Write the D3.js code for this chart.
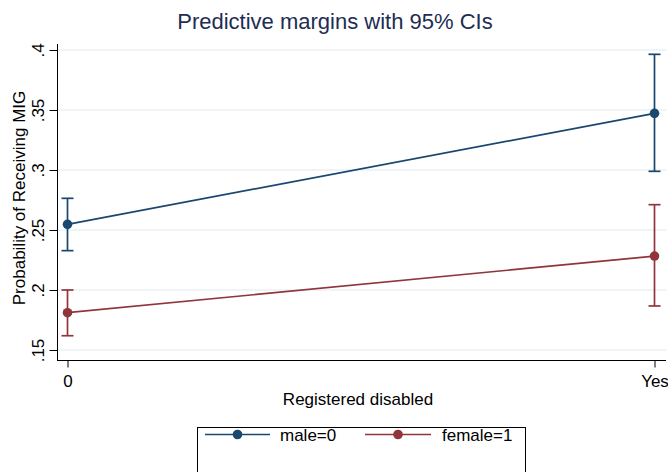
<!DOCTYPE html>
<html><head><meta charset="utf-8">
<script src="https://cdn.jsdelivr.net/npm/d3@7"></script>
<style>body{margin:0;background:#fff}svg{display:block;font-family:"Liberation Sans",Arial,sans-serif}</style>
</head><body><svg id="c" width="668" height="472"></svg>
<script>
const categories = ["0", "Yes"];
const seriesNames = ["male=0", "female=1"];
const maleMargin = [0.2547, 0.3472];
const maleLower = [0.2328, 0.2989];
const maleUpper = [0.2764, 0.3964];
const femaleMargin = [0.1811, 0.2283];
const femaleLower = [0.1619, 0.1867];
const femaleUpper = [0.2000, 0.2711];
const yTicks = [0.15, 0.2, 0.25, 0.3, 0.35, 0.4];
const yTickLabels = [".15", ".2", ".25", ".3", ".35", ".4"];
const colors = ["#1a476f", "#90353b"];

const svg = d3.select("#c");
const x = d3.scalePoint().domain(categories).range([67.5, 654.5]);
const y = d3.scaleLinear().domain([0.15, 0.4]).range([350, 50]);

// gridlines
svg.append("g").selectAll("line").data(yTicks).join("line")
  .attr("x1", 58).attr("x2", 666)
  .attr("y1", d => y(d)).attr("y2", d => y(d))
  .attr("stroke", "#eaf2f3").attr("stroke-width", 1.3);

// y axis
const yAxis = d3.axisLeft(y).tickValues(yTicks).tickSize(8).tickFormat((d, i) => yTickLabels[i]);
const gy = svg.append("g").attr("transform", "translate(57.5,0)").call(yAxis);
gy.select(".domain").attr("d", "M0,44V360.5").attr("stroke", "#000");
gy.selectAll(".tick line").attr("stroke", "#000");
gy.selectAll(".tick text").attr("font-size", 17).attr("fill", "#000")
  .attr("transform", "rotate(-90)").attr("text-anchor", "middle")
  .attr("x", 0).attr("dy", 0).attr("y", -14)
  .attr("font-family", "Liberation Sans, Arial, sans-serif");

// x axis
const xAxis = d3.axisBottom(x).tickSize(7);
const gx = svg.append("g").attr("transform", "translate(0,360.5)").call(xAxis);
gx.select(".domain").attr("d", "M57,0H666").attr("stroke", "#000");
gx.selectAll(".tick line").attr("stroke", "#000");
gx.selectAll(".tick text").attr("font-size", 17).attr("fill", "#000").attr("y", 26).attr("dy", 0)
  .attr("font-family", "Liberation Sans, Arial, sans-serif");

const series = [
  {name: seriesNames[0], m: maleMargin, lo: maleLower, hi: maleUpper, c: colors[0]},
  {name: seriesNames[1], m: femaleMargin, lo: femaleLower, hi: femaleUpper, c: colors[1]}
];
const line = d3.line().x((d, i) => x(categories[i])).y(d => y(d));
series.forEach(s => {
  const g = svg.append("g");
  g.append("path").attr("d", line(s.m)).attr("fill", "none").attr("stroke", s.c).attr("stroke-width", 1.7);
  categories.forEach((cat, i) => {
    const cx = x(cat);
    g.append("line").attr("x1", cx).attr("x2", cx).attr("y1", y(s.lo[i])).attr("y2", y(s.hi[i])).attr("stroke", s.c).attr("stroke-width", 1.7);
    [s.lo[i], s.hi[i]].forEach(v => {
      g.append("line").attr("x1", cx - 6).attr("x2", cx + 6).attr("y1", y(v)).attr("y2", y(v)).attr("stroke", s.c).attr("stroke-width", 1.7);
    });
    g.append("circle").attr("cx", cx).attr("cy", y(s.m[i])).attr("r", 4.8).attr("fill", s.c);
  });
});

// titles
svg.append("text").attr("x", 335).attr("y", 29).attr("text-anchor", "middle")
  .attr("font-size", 22).attr("fill", "#1e2d53").text("Predictive margins with 95% CIs");
svg.append("text").attr("transform", "translate(25,198) rotate(-90)").attr("text-anchor", "middle")
  .attr("font-size", 17).attr("fill", "#000").text("Probability of Receiving MIG");
svg.append("text").attr("x", 358).attr("y", 405).attr("text-anchor", "middle")
  .attr("font-size", 17).attr("fill", "#000").text("Registered disabled");

// legend
const lg = svg.append("g");
lg.append("rect").attr("x", 197.5).attr("y", 427.5).attr("width", 328).attr("height", 60)
  .attr("fill", "#fff").attr("stroke", "#000").attr("stroke-width", 1);
const legendX = [[205, 270, 280], [365, 431, 442]];
series.forEach((s, i) => {
  const [a, b, t] = legendX[i];
  lg.append("line").attr("x1", a).attr("x2", b).attr("y1", 434.5).attr("y2", 434.5).attr("stroke", s.c).attr("stroke-width", 1.7);
  lg.append("circle").attr("cx", (a + b) / 2).attr("cy", 434.5).attr("r", 4.8).attr("fill", s.c);
  lg.append("text").attr("x", t).attr("y", 441).attr("font-size", 17).attr("fill", "#000").text(s.name);
});
</script></body></html>
